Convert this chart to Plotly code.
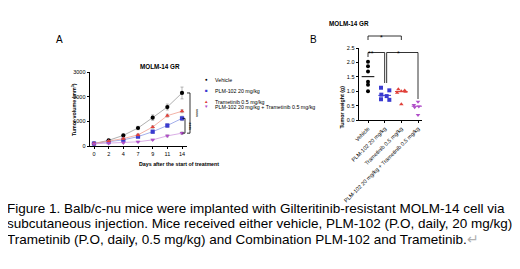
import plotly.graph_objects as go

W, H = 520, 269
OFF = 8  # page body margin offset
FONT = "Liberation Sans, Arial, sans-serif"

# ---------------- data ----------------
days = ["0", "2", "4", "7", "9", "11", "14"]
vehicle_vol = [100, 230, 430, 730, 1150, 1580, 2150]
vehicle_err = [15, 30, 40, 70, 110, 120, 240]
plm_vol = [100, 160, 250, 380, 580, 830, 1120]
plm_err = [10, 20, 25, 40, 60, 70, 90]
tram_vol = [100, 200, 300, 450, 770, 1230, 1410]
tram_err = [10, 20, 30, 40, 50, 60, 60]
combo_vol = [90, 110, 130, 170, 250, 410, 520]
combo_err = [10, 10, 15, 20, 25, 40, 50]

groups = ["Vehicle", "PLM-102 20 mg/kg", "Trametinib 0.5 mg/kg",
          "PLM-102 20 mg/kg + Trametinib 0.5 mg/kg"]
vehicle_wt = [2.02, 1.87, 1.68, 1.33, 1.22, 1.0]
plm_wt = [1.12, 1.03, 0.88, 0.83, 0.72, 0.70]
tram_wt = [1.07, 1.02, 1.0, 0.98, 0.95, 0.55]
combo_wt = [0.63, 0.52, 0.49, 0.47, 0.44, 0.17]

# ---------------- style ----------------
colors = ["#000000", "#3a3ad0", "#e0403a", "#b04ec8"]
line_colors = ["#9a9a9a", "#8c9ae6", "#f0a090", "#d09ae0"]
symbols = ["circle", "square", "triangle-up", "triangle-down"]
legend_glyphs = ["●", "■", "▲", "▼"]
jitter = [
    [0, 0, 0, 0, 0, 0],
    [-0.22, 0.28, -0.2, 0.12, -0.22, 0.28],
    [-0.18, 0.2, 0.0, 0.25, -0.25, 0.0],
    [0.0, -0.25, 0.25, 0.05, -0.2, 0.0],
]


# reference-pixel -> paper coordinates
def px_x(p):
    return (p - OFF) / W


def px_y(p):
    return 1 - (p - OFF) / H


A_xdom = [px_x(90), px_x(187)]
A_xrng = [-0.273, 6.34]
A_ydom = [px_y(146), px_y(72)]
A_yrng = [0, 3000]
B_xdom = [px_x(359), px_x(422)]
B_xrng = [-0.54, 3.24]
B_ydom = [px_y(120), px_y(48)]
B_yrng = [0, 2.5]


def to_paper(v, dom, rng):
    return dom[0] + (v - rng[0]) / (rng[1] - rng[0]) * (dom[1] - dom[0])


fig = go.Figure()

# ---------------- panel A ----------------
vol_series = [vehicle_vol, plm_vol, tram_vol, combo_vol]
err_series = [vehicle_err, plm_err, tram_err, combo_err]
xs = list(range(len(days)))
for i in range(4):
    fig.add_trace(go.Scatter(
        x=xs, y=vol_series[i], mode="lines+markers", name=groups[i],
        xaxis="x", yaxis="y",
        line=dict(color=line_colors[i], width=0.8),
        marker=dict(color=colors[i], symbol=symbols[i], size=4.2,
                    line=dict(width=0)),
        error_y=dict(type="data", array=err_series[i], visible=True,
                     color="#8a8a8a", thickness=0.6, width=1.5),
        showlegend=False, cliponaxis=False,
    ))

# ---------------- panel B ----------------
wt_series = [vehicle_wt, plm_wt, tram_wt, combo_wt]
for i in range(4):
    fig.add_trace(go.Scatter(
        x=[i + j for j in jitter[i]], y=wt_series[i], mode="markers",
        xaxis="x2", yaxis="y2",
        marker=dict(color=colors[i], symbol=symbols[i], size=4.0,
                    line=dict(width=0)),
        showlegend=False, cliponaxis=False,
    ))
    s = sorted(wt_series[i])
    med = (s[2] + s[3]) / 2
    fig.add_trace(go.Scatter(
        x=[i - 0.38, i + 0.38], y=[med, med], mode="lines",
        xaxis="x2", yaxis="y2",
        line=dict(color="#000000" if i == 0 else colors[i], width=1),
        showlegend=False, hoverinfo="skip",
    ))

axis_common = dict(showline=True, linecolor="black", linewidth=0.8,
                   ticks="outside", ticklen=2.5, tickwidth=0.8,
                   tickcolor="black", showgrid=False, zeroline=False,
                   automargin=False,
                   tickfont=dict(family=FONT, size=5.5, color="black"))

fig.update_layout(
    template="none",
    width=W, height=H, margin=dict(l=0, r=0, t=0, b=0, pad=0),
    autosize=False,
    paper_bgcolor="white", plot_bgcolor="white",
    xaxis=dict(domain=A_xdom, range=A_xrng, anchor="y",
               tickvals=xs, ticktext=days, **axis_common),
    yaxis=dict(domain=A_ydom, range=A_yrng, anchor="x",
               tickvals=[0, 1000, 2000, 3000], **axis_common),
    xaxis2=dict(domain=B_xdom, range=B_xrng, anchor="y2",
                tickvals=list(range(4)), ticktext=groups, tickangle=-45,
                **axis_common),
    yaxis2=dict(domain=B_ydom, range=B_yrng, anchor="x2",
                tickvals=[0, 0.5, 1.0, 1.5, 2.0, 2.5],
                ticktext=["0.0", "0.5", "1.0", "1.5", "2.0", "2.5"],
                **axis_common),
)

ann = []
shapes = []


def text(x, y, t, size, **kw):
    d = dict(x=px_x(x), y=px_y(y), xref="paper", yref="paper", text=t,
             showarrow=False, font=dict(family=FONT, size=size,
                                        color=kw.pop("color", "black")))
    d.update(kw)
    ann.append(d)


# panel letters & titles
text(54, 32, "A", 10)
text(313, 32, "B", 10)
text(138, 61, "<b>MOLM-14 GR</b>", 6.3)
text(371, 18, "<b>MOLM-14 GR</b>", 6.3)
text(69, 110, "<b>Tumor volume (mm<sup>3</sup>)</b>", 5.3, textangle=-90)
text(137, 164, "<b>Days after the start of treatment</b>", 5.3)
text(341, 84, "<b>Tumor weight (g)</b>", 5.3, textangle=-90)

# legend A
for i, yy in enumerate([75, 86, 96.5, 107]):
    text(206, yy, legend_glyphs[i], 4.5, color=colors[i])
    text(213, yy, groups[i], 5.3, xanchor="left")


def seg(x0, y0, x1, y1, w=0.8):
    shapes.append(dict(type="line", xref="paper", yref="paper",
                       x0=x0, y0=y0, x1=x1, y1=y1,
                       line=dict(color="black", width=w)))


def ay(v):
    return to_paper(v, A_ydom, A_yrng)


def bx(v):
    return to_paper(v, B_xdom, B_xrng)


# significance brackets A
xb = px_x(190)
seg(xb, ay(vehicle_vol[-1]), xb, ay(combo_vol[-1]))
seg(xb - 3 / W, ay(vehicle_vol[-1]), xb, ay(vehicle_vol[-1]))
seg(xb - 3 / W, ay(combo_vol[-1]), xb, ay(combo_vol[-1]))
xi = px_x(185)
seg(xi, ay(plm_vol[-1]), xi, ay(combo_vol[-1]))
seg(xi - 2.5 / W, ay(plm_vol[-1]), xi, ay(plm_vol[-1]))
seg(xi - 2.5 / W, ay(combo_vol[-1]), xi, ay(combo_vol[-1]))
ann.append(dict(x=px_x(196), y=(ay(vehicle_vol[-1]) + ay(combo_vol[-1])) / 2,
                xref="paper", yref="paper", text="****", textangle=90,
                showarrow=False, font=dict(family=FONT, size=5, color="black")))
ann.append(dict(x=px_x(189.5), y=(ay(plm_vol[-1]) + ay(combo_vol[-1])) / 2,
                xref="paper", yref="paper", text="****", textangle=90,
                showarrow=False, font=dict(family=FONT, size=5, color="black")))

# significance brackets B
top = px_y(36)
seg(bx(0), top, bx(2), top)
seg(bx(0), top, bx(0), px_y(40))
seg(bx(2), top, bx(2), px_y(40))
text((bx(0) + bx(2)) / 2 * W + OFF, 32, "*", 7)
mid = px_y(52.5)
seg(bx(0), mid, bx(1), mid)
seg(bx(0), mid, bx(0), px_y(57))
seg(bx(1), mid, bx(1), px_y(83))
text((bx(0) + bx(1)) / 2 * W + OFF, 48.5, "**", 7)
seg(bx(1.12), mid, bx(3), mid)
seg(bx(1.12), mid, bx(1.12), px_y(83))
seg(bx(3), mid, bx(3), px_y(99))
text((bx(1.12) + bx(3)) / 2 * W + OFF, 48.5, "*", 7)

# caption
cap = [
    "Figure 1. Balb/c-nu mice were implanted with Gilteritinib-resistant MOLM-14 cell via",
    "subcutaneous injection. Mice received either vehicle, PLM-102 (P.O, daily, 20 mg/kg),",
    "Trametinib (P.O, daily, 0.5 mg/kg) and Combination PLM-102 and Trametinib."
    "<span style='color:#b0b0b0'>↵</span>",
]
for k, line in enumerate(cap):
    text(5, 218 + 15.5 * k, line, 13.5, xanchor="left")

fig.update_layout(annotations=ann, shapes=shapes)
fig.write_html("out.html")
